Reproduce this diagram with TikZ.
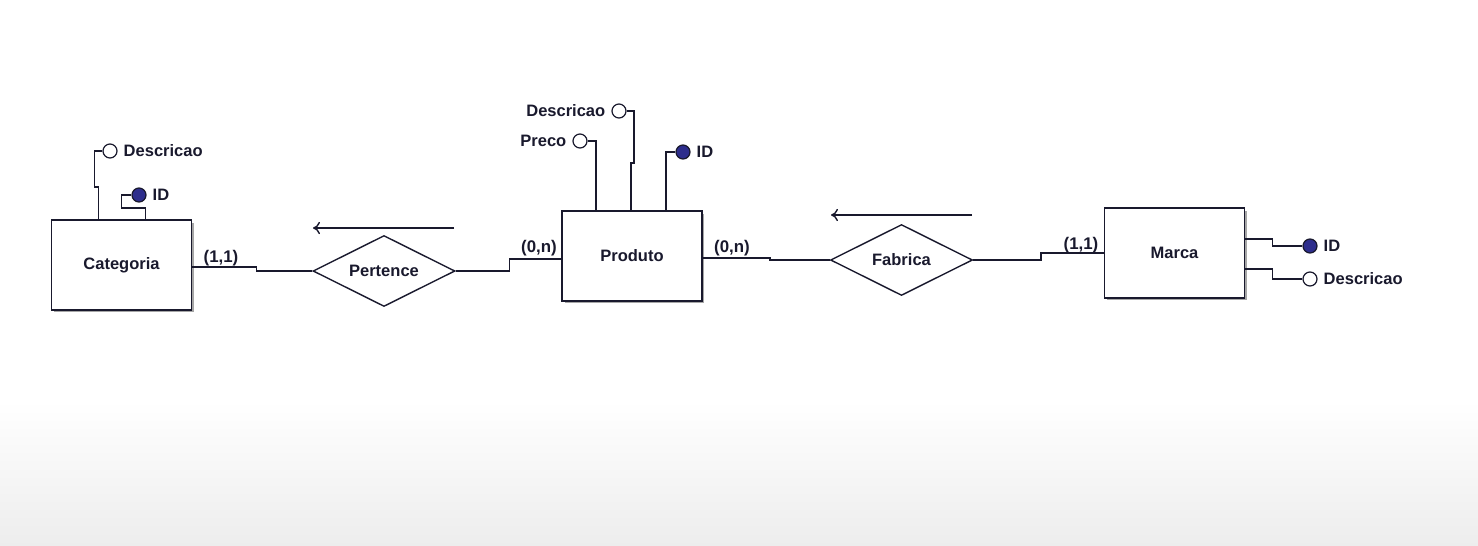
\documentclass[tikz,border=0pt]{standalone}
\usepackage{fontspec}
\newfontfamily\erfont{Liberation Sans}
\usetikzlibrary{arrows, arrows.meta, calc, positioning, shapes.geometric, shadows}

\definecolor{erink}{RGB}{25,25,45}
\definecolor{keyblue}{RGB}{45,45,140}

\tikzset{
  entity/.style={draw=erink, fill=white, line width=1pt, minimum width=2.8cm,
    minimum height=1.8cm, font=\erfont\bfseries\fontsize{9.4}{11}\selectfont,
    text=erink, drop shadow={shadow xshift=0.05cm, shadow yshift=-0.05cm, fill=gray!70, opacity=1}},
  relation/.style={draw=erink, diamond, aspect=2, inner sep=0pt, line width=0.8pt,
    minimum width=2.84cm, minimum height=1.42cm,
    font=\erfont\bfseries\fontsize{9.4}{11}\selectfont, text=erink},
  attr/.style={draw=erink, circle, fill=white, inner sep=0pt, minimum size=0.28cm, line width=0.7pt},
  keyattr/.style={attr, fill=keyblue},
  attrtext/.style={inner sep=1pt, font=\erfont\bfseries\fontsize{9.4}{11}\selectfont, text=erink},
  card/.style={inner sep=0pt, font=\erfont\bfseries\fontsize{9.6}{11}\selectfont, text=erink},
  link/.style={draw=erink, line width=0.8pt},
  flow/.style={-{To[length=4pt, width=7pt]}, draw=erink, line width=0.8pt}
}

\begin{document}
\begin{tikzpicture}[x=0.02cm, y=-0.02cm]
    \path[use as bounding box] (0,0) rectangle (1478,545);
    \shade[top color=white, bottom color=gray!14] (0,400) rectangle (1478,545);

    % entities
    \node[entity] (cat) at (121.5,265) {Categoria};
    \node[entity] (prod) at (632,256) {Produto};
    \node[entity] (marca) at (1174.5,253) {Marca};

    % relations
    \node[relation] (pert) at (384,271) {Pertence};
    \node[relation] (fab) at (901.5,260) {Fabrica};

    % attributes of Categoria
    \node[attr] (catdesc) at (110,151) {};
    \node[attrtext, right=0.08cm of catdesc] (catdesclbl) {Descricao};
    \node[keyattr] (catid) at (139,195) {};
    \node[attrtext, right=0.08cm of catid] (catidlbl) {ID};

    % attributes of Produto
    \node[attr] (preco) at (580,141) {};
    \node[attrtext, left=0.08cm of preco] (precolbl) {Preco};
    \node[attr] (proddesc) at (619,111) {};
    \node[attrtext, left=0.08cm of proddesc] (proddesclbl) {Descricao};
    \node[keyattr] (prodid) at (683,152) {};
    \node[attrtext, right=0.08cm of prodid] (prodidlbl) {ID};

    % attributes of Marca
    \node[keyattr] (marid) at (1310,246) {};
    \node[attrtext, right=0.08cm of marid] (maridlbl) {ID};
    \node[attr] (mardesc) at (1310,279) {};
    \node[attrtext, right=0.08cm of mardesc] (mardesclbl) {Descricao};

    % attribute lines
    \draw[link] ($(cat.north west)+(48,0)$) -- ++(0,-32) -- ++(-4,0) |- (catdesc.west);
    \draw[link] ($(cat.north west)+(95,0)$) -- ++(0,-11) -- ++(-24,0) |- (catid.west);
    \draw[link] ($(prod.north west)+(35,0)$) |- (preco.east);
    \draw[link] ($(prod.north west)+(70,0)$) -- ++(0,-47) -- ++(3,0) |- (proddesc.east);
    \draw[link] ($(prod.north west)+(105,0)$) |- (prodid.west);
    \draw[link] ($(marca.north east)+(0,32)$) -- ++(27,0) |- (marid.west);
    \draw[link] ($(marca.north east)+(0,62)$) -- ++(27,0) |- (mardesc.west);

    % relation lines
    \draw[link] ([yshift=-0.04cm]cat.east) -- ++(64,0) |- (pert.west);
    \draw[link] (pert.east) -- ++(54,0) |- ([yshift=-0.06cm]prod.west);
    \draw[link] ([yshift=-0.04cm]prod.east) -- ++(67,0) |- (fab.west);
    \draw[link] (fab.east) -- ++(68,0) |- (marca.west);

    % cardinalities
    \node[card] (cardcat) at (221,258) {(1,1)};
    \node[card] (cardprodl) at (539,248) {(0,n)};
    \node[card] (cardprodr) at (732,248) {(0,n)};
    \node[card] (cardmarca) at (1081,245) {(1,1)};

    % reading direction
    \coordinate (pertarrR) at (454,228);
    \coordinate (pertarrL) at (313,228);
    \draw[flow] (pertarrR) -- (pertarrL);
    \coordinate (fabarrR) at (972,215);
    \coordinate (fabarrL) at (831,215);
    \draw[flow] (fabarrR) -- (fabarrL);

\end{tikzpicture}
\end{document}
